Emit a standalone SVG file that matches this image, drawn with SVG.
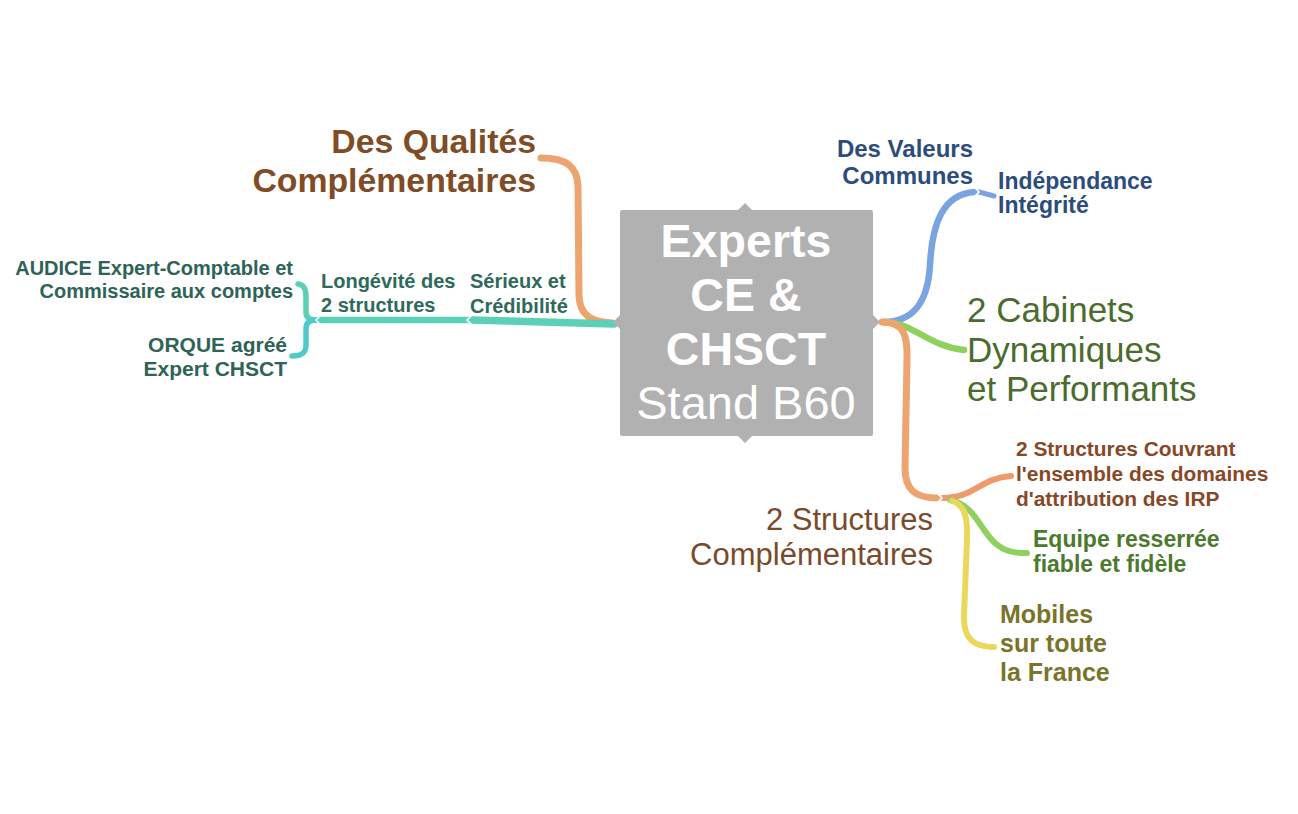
<svg xmlns="http://www.w3.org/2000/svg" width="1298" height="814" viewBox="0 0 1298 814">
<style>
text{font-family:"Liberation Sans",Arial,sans-serif}
.b{font-weight:bold}
.c{fill:none;stroke-linecap:round;stroke-linejoin:round}
.notch{fill:none;stroke:#ffffff;stroke-width:1.6;stroke-linecap:round}
</style>
<rect width="1298" height="814" fill="#ffffff"/>
<g id="connectors">
  <path class="c" d="M612,323 C592,322 580,316 579,296 L578,186 C577,166 566,158 541,158" stroke="#eea46e" stroke-width="7"/>
  <path class="c" d="M614,324 L470,320" stroke="#5ccfb8" stroke-width="7.5"/>
  <path class="c" d="M466,320 L319,320" stroke="#5ccfb8" stroke-width="6.5"/>
  <path class="c" d="M298,284 C305,285 306,290 306,298 L306,312 C306,317 309,320 316,320" stroke="#5ccfb5" stroke-width="5.5"/>
  <path class="c" d="M316,320 C309,320 306,323 306,329 L306,345 C306,353 302,356 292,356" stroke="#4fcacb" stroke-width="5.5"/>
  <path class="c" d="M883,322 C915,322 928,300 930,265 C932,225 942,194 975,192" stroke="#7aa3e2" stroke-width="6.5"/>
  <path class="c" d="M979,192 L994,196" stroke="#7aa3e2" stroke-width="5"/>
  <path class="c" d="M884,322 C915,323 927,346 964,350" stroke="#90d15e" stroke-width="6.5"/>
  <path class="c" d="M882,322 C903,322 908,334 907,360 L905,468 C905,490 915,498 938,498" stroke="#eea46e" stroke-width="7"/>
  <path class="c" d="M943,498 C974,498 980,478 1011,476" stroke="#ef9a6c" stroke-width="6"/>
  <path class="c" d="M950,500 C975,505 980,530 995,543 C1005,552 1015,553 1027,553" stroke="#90d15e" stroke-width="6"/>
  <path class="c" d="M952,501 C964,505 968,515 967,540 L964,615 C963,640 975,647 994,647" stroke="#ead85e" stroke-width="6"/>
  <path class="notch" d="M471,316 L467,320 L471,324"/>
  <path class="notch" d="M320,316 L316,320 L320,324"/>
  <path class="notch" d="M975,188 L979,192 L975,196"/>
  <path class="notch" d="M938,494 L942,498 L938,502"/>
</g>
<g id="center">
  <path d="M622,210 L738,210 L745,203 L752,210 L871,210 Q873,210 873,212 L873,315 L880,322 L873,329 L873,434 Q873,436 871,436 L752,436 L745,443 L738,436 L622,436 Q620,436 620,434 L620,329 L613,322 L620,315 L620,212 Q620,210 622,210 Z" fill="#b1b1b1"/>
  <text x="746" y="257" text-anchor="middle" font-size="46.6" class="b" fill="#ffffff">Experts</text>
  <text x="746" y="311" text-anchor="middle" font-size="46.6" class="b" fill="#ffffff">CE &amp;</text>
  <text x="746" y="365" text-anchor="middle" font-size="46.6" class="b" fill="#ffffff">CHSCT</text>
  <text x="746" y="419" text-anchor="middle" font-size="47" fill="#ffffff">Stand B60</text>
</g>
<g id="qualites">
  <text x="536" y="153" text-anchor="end" font-size="33.8" class="b" fill="#7f4c25">Des Qualités</text>
  <text x="536" y="192" text-anchor="end" font-size="33.8" class="b" fill="#7f4c25">Complémentaires</text>
</g>
<g id="serieux">
  <text x="470" y="288" font-size="20" class="b" fill="#2e6a5c">Sérieux et</text>
  <text x="470" y="313" font-size="20" class="b" fill="#2e6a5c">Crédibilité</text>
</g>
<g id="longevite">
  <text x="321" y="288" font-size="20" class="b" fill="#2e6a5c">Longévité des</text>
  <text x="321" y="312" font-size="20" class="b" fill="#2e6a5c">2 structures</text>
</g>
<g id="audice">
  <text x="293" y="275" text-anchor="end" font-size="20" class="b" fill="#2e6357">AUDICE Expert-Comptable et</text>
  <text x="293" y="298" text-anchor="end" font-size="20" class="b" fill="#2e6357">Commissaire aux comptes</text>
</g>
<g id="orque">
  <text x="287" y="352" text-anchor="end" font-size="21" class="b" fill="#2e6357">ORQUE agréé</text>
  <text x="287" y="376" text-anchor="end" font-size="21" class="b" fill="#2e6357">Expert CHSCT</text>
</g>
<g id="valeurs">
  <text x="973" y="157" text-anchor="end" font-size="24" class="b" fill="#2c4c7e">Des Valeurs</text>
  <text x="973" y="184" text-anchor="end" font-size="24" class="b" fill="#2c4c7e">Communes</text>
</g>
<g id="independance">
  <text x="998" y="189" font-size="23" class="b" fill="#2c4c7e">Indépendance</text>
  <text x="998" y="213" font-size="23" class="b" fill="#2c4c7e">Intégrité</text>
</g>
<g id="cabinets">
  <text x="967" y="322" font-size="35" fill="#4b6c2c">2 Cabinets</text>
  <text x="967" y="362" font-size="35" fill="#4b6c2c">Dynamiques</text>
  <text x="967" y="401" font-size="35" fill="#4b6c2c">et Performants</text>
</g>
<g id="structures">
  <text x="933" y="530" text-anchor="end" font-size="31" fill="#7b4a2a">2 Structures</text>
  <text x="933" y="565" text-anchor="end" font-size="31" fill="#7b4a2a">Complémentaires</text>
</g>
<g id="couvrant">
  <text x="1016" y="456" font-size="20.9" class="b" fill="#884726">2 Structures Couvrant</text>
  <text x="1016" y="481" font-size="20.9" class="b" fill="#884726">l'ensemble des domaines</text>
  <text x="1016" y="506" font-size="20.9" class="b" fill="#884726">d'attribution des IRP</text>
</g>
<g id="equipe">
  <text x="1033" y="547" font-size="23" class="b" fill="#4c7a2c">Equipe resserrée</text>
  <text x="1033" y="572" font-size="23" class="b" fill="#4c7a2c">fiable et fidèle</text>
</g>
<g id="mobiles">
  <text x="1000" y="623" font-size="25" class="b" fill="#7a742a">Mobiles</text>
  <text x="1000" y="652" font-size="25" class="b" fill="#7a742a">sur toute</text>
  <text x="1000" y="681" font-size="25" class="b" fill="#7a742a">la France</text>
</g>
</svg>
